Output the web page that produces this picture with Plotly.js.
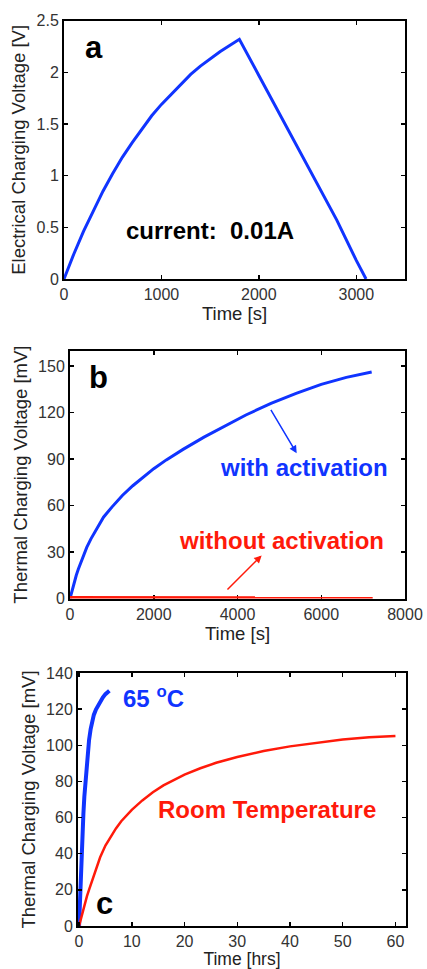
<!DOCTYPE html>
<html>
<head>
<meta charset="utf-8">
<script src="https://cdn.plot.ly/plotly-3.0.1.min.js"></script>
<style>html,body{margin:0;padding:0;background:#fff;}#chart{width:427px;height:969px;}</style>
</head>
<body>
<div id="chart"></div>
<script>
// Panel a: electrical charging / discharging at 0.01 A
const timeA = [0, 100, 200, 300, 400, 500, 600, 700, 800, 900, 1000, 1100, 1200, 1300, 1400, 1500, 1600, 1700, 1800,
               2000, 2200, 2400, 2600, 2800, 3000, 3100];
const voltA = [0, 0.24, 0.46, 0.66, 0.85, 1.02, 1.18, 1.32, 1.45, 1.58, 1.69, 1.79, 1.89, 1.98, 2.06, 2.13, 2.2, 2.26, 2.32,
               1.97, 1.62, 1.27, 0.92, 0.57, 0.18, 0];

// Panel b: thermal charging with / without activation
const timeB_with = [0, 50, 100, 150, 200, 300, 400, 500, 650, 800, 1000, 1250, 1500, 1750, 2000, 2300, 2700, 3200, 3700,
                    4200, 4800, 5400, 6000, 6600, 7204];
const voltB_with = [0, 5.5, 10.5, 15, 19, 26.5, 33, 38.5, 46, 52.5, 59, 66.5, 72.8, 78.5, 83.8, 89.5, 96.3, 104.2, 111.5,
                    118.5, 126, 132.5, 138.3, 142.8, 146.3];
const timeB_without = [0, 2000, 4000, 6000, 7228];
const voltB_without = [0.5, 0.4, 0.35, 0.3, 0.25];

// Panel c: thermal charging at 65 oC and room temperature
const timeC_65 = [0, 0.1, 0.2, 0.3, 0.4, 0.5, 0.6, 0.7, 0.82, 1.0, 1.2, 1.4, 1.64, 1.9, 2.2, 2.5, 2.8, 3.2, 3.5, 4.0, 4.5, 5.0, 5.75];
const voltC_65 = [0, 9, 18, 26, 34, 41.5, 48.5, 55, 62, 71.5, 80, 88, 96, 103, 109, 113.5, 116.8, 119.8, 121.6, 124.2, 126.4, 128.3, 130.2];
const timeC_rt = [0, 0.5, 1, 1.5, 2, 3, 4, 5, 6, 7, 8, 9, 10, 12, 14, 16, 18, 20, 23, 26, 30, 35, 40, 45, 50, 55, 60];
const voltC_rt = [0, 6, 11.5, 16.5, 21, 30, 38, 44.5, 49.5, 54, 58, 61.3, 64.3, 69.5, 74, 77.8, 81, 83.8, 87.3, 90.3, 93.5,
                  96.8, 99.4, 101.5, 103.2, 104.4, 105.2];

const ticksA_x = [0, 1000, 2000, 3000];
const ticksA_y = [0, 0.5, 1, 1.5, 2, 2.5];
const ticksA_ylab = ['0', '0.5', '1', '1.5', '2', '2.5'];
const ticksB_x = [0, 2000, 4000, 6000, 8000];
const ticksB_y = [0, 30, 60, 90, 120, 150];
const ticksC_x = [0, 10, 20, 30, 40, 50, 60];
const ticksC_y = [0, 20, 40, 60, 80, 100, 120, 140];

const W = 427, H = 969;
const BLUE = '#1034ff', RED = '#ff1a0a';
const FONT = 'Liberation Sans, Arial, sans-serif';

function ax(domain, range, tickvals, ticktext, title, standoff, tsize) {
  const a = {
    domain: domain, range: range, tickmode: 'array', tickvals: tickvals,
    ticks: 'inside', ticklen: 4, tickwidth: 1.5, tickcolor: '#000',
    showline: true, linewidth: 2, linecolor: '#000', mirror: 'allticks',
    showgrid: false, zeroline: false, automargin: false,
    tickfont: {family: FONT, size: 16, color: '#333'},
    title: {text: title, font: {family: FONT, size: tsize || 18.5, color: '#222'}, standoff: standoff}
  };
  if (ticktext) a.ticktext = ticktext;
  return a;
}
const yd = (top, bottom) => [1 - bottom / H, 1 - top / H];

const traces = [
  {x: timeA, y: voltA, xaxis: 'x', yaxis: 'y', mode: 'lines', line: {color: BLUE, width: 3}},
  {x: timeB_with, y: voltB_with, xaxis: 'x2', yaxis: 'y2', mode: 'lines', line: {color: BLUE, width: 3}},
  {x: timeB_without, y: voltB_without, xaxis: 'x2', yaxis: 'y2', mode: 'lines', line: {color: RED, width: 3.5}},
  {x: timeC_65, y: voltC_65, xaxis: 'x3', yaxis: 'y3', mode: 'lines', line: {color: BLUE, width: 4}},
  {x: timeC_rt, y: voltC_rt, xaxis: 'x3', yaxis: 'y3', mode: 'lines', line: {color: RED, width: 2.5}}
];

const bold = (t, color, size, x, y, xref, yref) => ({
  text: '<b>' + t + '</b>', x: x, y: y, xref: xref, yref: yref, showarrow: false,
  font: {family: FONT, size: size, color: color}, xanchor: 'center', yanchor: 'middle'
});

const layout = {
  width: W, height: H, showlegend: false,
  margin: {l: 0, r: 0, t: 0, b: 0},
  paper_bgcolor: '#fff', plot_bgcolor: '#fff',
  xaxis: Object.assign(ax([64 / W, 405 / W], [0, 3500], ticksA_x, null, 'Time [s]', 2), {anchor: 'y'}),
  yaxis: Object.assign(ax(yd(20.7, 279), [0, 2.5], ticksA_y, ticksA_ylab, 'Electrical Charging Voltage [V]', 6), {anchor: 'x'}),
  xaxis2: Object.assign(ax([70 / W, 405 / W], [0, 8000], ticksB_x, null, 'Time [s]', 2), {anchor: 'y2', layer: 'below traces'}),
  yaxis2: Object.assign(ax(yd(350.7, 598.5), [0, 160], ticksB_y, null, 'Thermal Charging Voltage [mV]', 6), {anchor: 'x2'}),
  xaxis3: Object.assign(ax([78 / W, 406 / W], [-0.2, 62], ticksC_x, null, 'Time [hrs]', 4, 17.5), {anchor: 'y3'}),
  yaxis3: Object.assign(ax(yd(673, 926), [0, 140], ticksC_y, null, 'Thermal Charging Voltage [mV]', 6), {anchor: 'x3'}),
  annotations: [
    bold('a', '#000', 31, 312, 2.24, 'x', 'y'),
    bold('current:\u00a0 0.01A', '#000', 24, 1495, 0.474, 'x', 'y'),
    bold('b', '#000', 31, 676, 142.5, 'x2', 'y2'),
    bold('with activation', BLUE, 24, 5596, 84.6, 'x2', 'y2'),
    bold('without activation', RED, 24, 5055, 37.5, 'x2', 'y2'),
    {x: 5413, y: 93.8, ax: 4776, ay: 122.8, xref: 'x2', yref: 'y2', axref: 'x2', ayref: 'y2',
     showarrow: true, arrowhead: 2, arrowsize: 1, arrowwidth: 1.5, arrowcolor: BLUE, text: ''},
    {x: 4577, y: 27.8, ax: 3725, ay: 4.9, xref: 'x2', yref: 'y2', axref: 'x2', ayref: 'y2',
     showarrow: true, arrowhead: 2, arrowsize: 1, arrowwidth: 1.5, arrowcolor: RED, text: ''},
    bold('65 <sup>o</sup>C', BLUE, 24, 14.15, 126.9, 'x3', 'y3'),
    bold('Room Temperature', RED, 24, 35.6, 64.2, 'x3', 'y3'),
    bold('c', '#000', 31, 4.8, 12.6, 'x3', 'y3')
  ]
};

Plotly.newPlot('chart', traces, layout, {staticPlot: true, displayModeBar: false});
</script>
</body>
</html>
